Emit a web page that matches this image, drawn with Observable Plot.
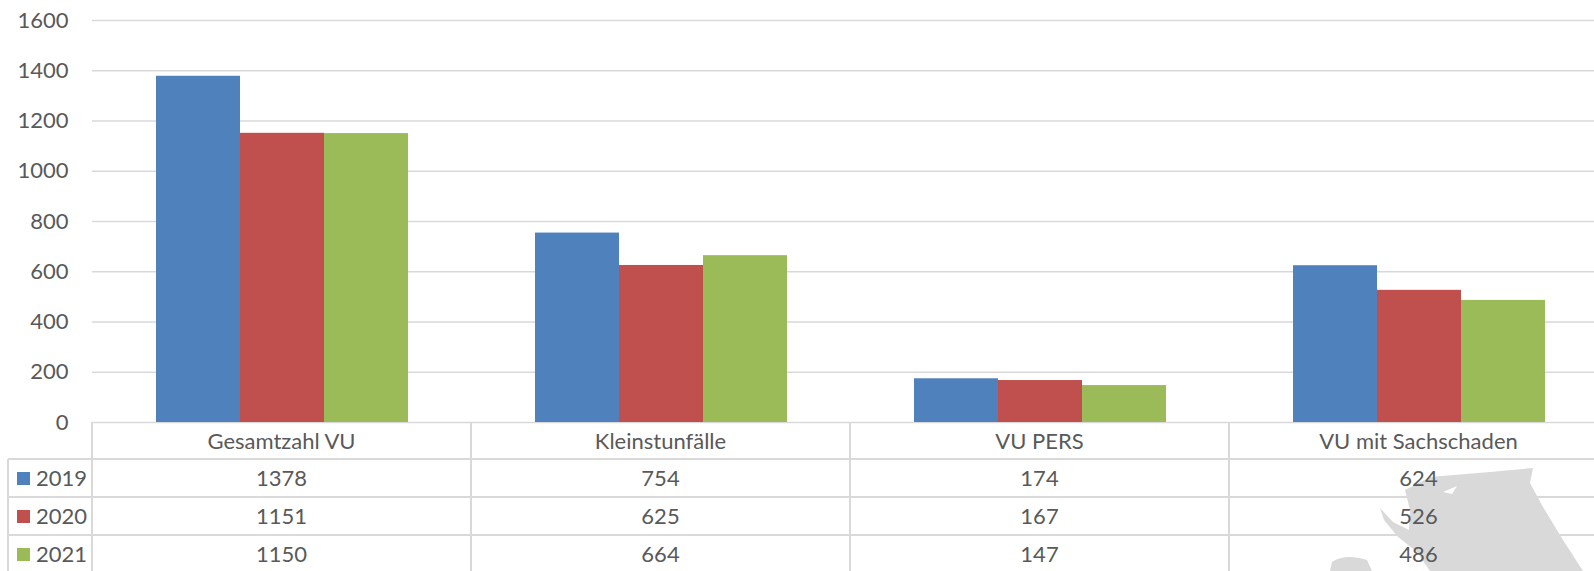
<!DOCTYPE html>
<html>
<head>
<meta charset="utf-8">
<script src="https://cdn.jsdelivr.net/npm/d3@7"></script>
<script src="https://cdn.jsdelivr.net/npm/@observablehq/plot@0.6"></script>
<style>
  html, body { margin: 0; padding: 0; background: #fff; overflow: hidden; }
  #wrap { position: relative; width: 1608px; height: 571px; font-family: Lato, "Liberation Sans", sans-serif; color: #595959; }
  #chart { position: absolute; left: 0; top: 0; z-index: 2; }
  #wm { position: absolute; left: 0; top: 0; z-index: 0; }
  .ln { position: absolute; background: #d9d9d9; z-index: 1; }
  .tx { position: absolute; font-size: 22px; line-height: 22px; text-align: center; white-space: nowrap; z-index: 3; transform: translate(-50%, -50%); }
  .key { position: absolute; width: 13px; height: 13px; z-index: 3; }
  .lg { position: absolute; font-size: 22px; line-height: 22px; white-space: nowrap; z-index: 3; transform: translateY(-50%); }
</style>
</head>
<body>
<div id="wrap">
  <svg id="wm" width="1608" height="571"></svg>
  <div id="chart"></div>
</div>
<script>
const categories = ["Gesamtzahl VU", "Kleinstunfälle", "VU PERS", "VU mit Sachschaden"];
const years = ["2019", "2020", "2021"];
const values2019 = [1378, 754, 174, 624];
const values2020 = [1151, 625, 167, 526];
const values2021 = [1150, 664, 147, 486];
const yTicks = [0, 200, 400, 600, 800, 1000, 1200, 1400, 1600];
const colors = ["#4f81bd", "#c0504d", "#9bbb59"];

const seriesValues = [values2019, values2020, values2021];
const data = [];
years.forEach((yr, i) => categories.forEach((c, j) => data.push({category: c, year: yr, value: seriesValues[i][j]})));

const W = 1608, left = 92, top0 = 20, zeroY = 422;

const chart = Plot.plot({
  width: W,
  height: zeroY + 2,
  marginLeft: left,
  marginRight: 0,
  marginTop: top0,
  marginBottom: 2,
  style: {fontFamily: "Lato, 'Liberation Sans', sans-serif", fontSize: "22px", color: "#595959", background: "transparent", overflow: "visible"},
  fx: {domain: categories, padding: 0, axis: null},
  x: {domain: years, paddingInner: 0, paddingOuter: 0.75, axis: null},
  y: {domain: [0, 1600], axis: null},
  color: {domain: years, range: colors},
  marks: [
    Plot.gridY(yTicks, {stroke: "#d9d9d9", strokeOpacity: 1, strokeWidth: 1.5}),
    Plot.axisY(yTicks, {tickSize: 0, tickPadding: 24, fill: "#595959", fontSize: 22, label: null, tickFormat: d => String(d)}),
    Plot.barY(data, {fx: "category", x: "year", y: "value", fill: "year"})
  ]
});
document.getElementById("chart").appendChild(chart);

// Data table below chart
const wrap = document.getElementById("wrap");
const step = (W - left) / categories.length;
const rowTops = [422, 459, 497, 535, 573];
function line(x, y, w, h) {
  const d = document.createElement("div");
  d.className = "ln";
  Object.assign(d.style, {left: x + "px", top: y + "px", width: w + "px", height: h + "px"});
  wrap.appendChild(d);
}
function text(s, cx, cy, cls) {
  const d = document.createElement("div");
  d.className = cls || "tx";
  d.textContent = s;
  d.style.left = cx + "px";
  d.style.top = cy + "px";
  wrap.appendChild(d);
}
// horizontal lines
line(left, rowTops[1] - 1, W - left, 2);
for (let r = 2; r < 4; r++) line(8, rowTops[r] - 1, W - 8, 2);
line(8, rowTops[1] - 1, left - 8, 2);
// vertical lines
line(7, rowTops[1], 2, 571 - rowTops[1]);
for (let j = 0; j < categories.length; j++) line(left + j * step - 1, zeroY, 2, 571 - zeroY);
// header texts
categories.forEach((c, j) => text(c, left + (j + 0.5) * step, (rowTops[0] + rowTops[1]) / 2));
// rows
years.forEach((yr, i) => {
  const cy = (rowTops[i + 1] + rowTops[i + 2]) / 2;
  const k = document.createElement("div");
  k.className = "key";
  k.style.background = colors[i];
  k.style.left = "17px";
  k.style.top = (cy - 6.5) + "px";
  wrap.appendChild(k);
  text(yr, 36, cy, "lg");
  seriesValues[i].forEach((v, j) => text(String(v), left + (j + 0.5) * step, cy));
});

// watermark (decorative)
const wm = d3.select("#wm");
wm.append("path")
  .attr("fill", "#d9d9d9")
  .attr("d", "M1405,490 L1430,477 L1490,472 L1533,468 L1530,483 L1543,507 L1563,540 L1583,571 L1430,571 L1417,552 L1398,537 L1384,520 L1380,508 L1393,522 L1409,530 L1410,510 Z");
wm.append("path")
  .attr("fill", "#ffffff")
  .attr("d", "M1443,492 L1457,486 L1452,494 Z");
wm.append("path")
  .attr("fill", "#d9d9d9")
  .attr("d", "M1330,571 L1332,562 Q1345,553 1367,560 L1372,571 Z");
</script>
</body>
</html>
